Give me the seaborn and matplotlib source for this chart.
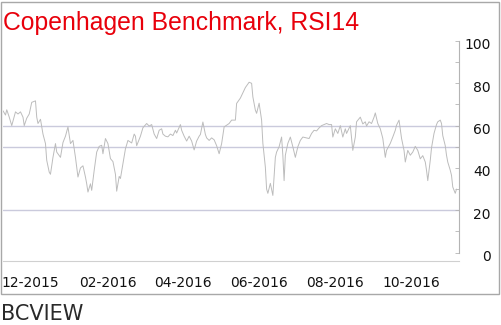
import matplotlib
matplotlib.use('Agg')
import matplotlib.pyplot as plt
import matplotlib.dates as mdates
from matplotlib import font_manager
from matplotlib.patches import Rectangle
from matplotlib.transforms import ScaledTranslation
import seaborn as sns
import pandas as pd

# ---------------- data ----------------
dates = [
    "2015-11-09", "2015-11-11", "2015-11-12", "2015-11-14", "2015-11-16", "2015-11-19",
    "2015-11-21", "2015-11-23", "2015-11-25", "2015-11-26", "2015-11-28", "2015-11-30",
    "2015-12-02", "2015-12-05", "2015-12-06", "2015-12-07", "2015-12-09", "2015-12-11",
    "2015-12-13", "2015-12-14", "2015-12-16", "2015-12-17", "2015-12-19", "2015-12-21",
    "2015-12-22", "2015-12-25", "2015-12-27", "2015-12-29", "2015-12-31", "2016-01-02",
    "2016-01-04", "2016-01-06", "2016-01-08", "2016-01-10", "2016-01-12", "2016-01-14",
    "2016-01-15", "2016-01-16", "2016-01-18", "2016-01-19", "2016-01-21", "2016-01-23",
    "2016-01-25", "2016-01-27", "2016-01-28", "2016-01-30", "2016-02-01", "2016-02-03",
    "2016-02-05", "2016-02-07", "2016-02-08", "2016-02-10", "2016-02-11", "2016-02-13",
    "2016-02-15", "2016-02-17", "2016-02-20", "2016-02-22", "2016-02-23", "2016-02-24",
    "2016-02-27", "2016-02-29", "2016-03-03", "2016-03-05", "2016-03-07", "2016-03-09",
    "2016-03-11", "2016-03-13", "2016-03-15", "2016-03-16", "2016-03-18", "2016-03-20",
    "2016-03-22", "2016-03-24", "2016-03-26", "2016-03-27", "2016-03-30", "2016-03-31",
    "2016-04-02", "2016-04-04", "2016-04-06", "2016-04-08", "2016-04-10", "2016-04-12",
    "2016-04-14", "2016-04-15", "2016-04-17", "2016-04-19", "2016-04-20", "2016-04-22",
    "2016-04-24", "2016-04-26", "2016-04-28", "2016-04-30", "2016-05-02", "2016-05-04",
    "2016-05-06", "2016-05-08", "2016-05-10", "2016-05-13", "2016-05-14", "2016-05-17",
    "2016-05-21", "2016-05-24", "2016-05-26", "2016-05-27", "2016-05-29", "2016-05-30",
    "2016-06-01", "2016-06-03", "2016-06-04", "2016-06-06", "2016-06-07", "2016-06-08",
    "2016-06-10", "2016-06-12", "2016-06-14", "2016-06-15", "2016-06-17", "2016-06-19",
    "2016-06-20", "2016-06-21", "2016-06-22", "2016-06-24", "2016-06-26", "2016-06-28",
    "2016-06-30", "2016-07-02", "2016-07-04", "2016-07-06", "2016-07-08", "2016-07-11",
    "2016-07-13", "2016-07-15", "2016-07-17", "2016-07-19", "2016-07-21", "2016-07-23",
    "2016-07-25", "2016-07-27", "2016-07-29", "2016-07-30", "2016-08-01", "2016-08-03",
    "2016-08-05", "2016-08-07", "2016-08-09", "2016-08-10", "2016-08-13", "2016-08-15",
    "2016-08-17", "2016-08-18", "2016-08-21", "2016-08-23", "2016-08-25", "2016-08-26",
    "2016-08-28", "2016-08-30", "2016-09-01", "2016-09-02", "2016-09-04", "2016-09-06",
    "2016-09-08", "2016-09-10", "2016-09-11", "2016-09-14", "2016-09-16", "2016-09-18",
    "2016-09-19", "2016-09-21", "2016-09-23", "2016-09-25", "2016-09-26", "2016-09-28",
    "2016-09-30", "2016-10-02", "2016-10-04", "2016-10-06", "2016-10-08", "2016-10-10",
    "2016-10-12", "2016-10-13", "2016-10-14", "2016-10-16", "2016-10-17", "2016-10-19",
    "2016-10-21", "2016-10-22", "2016-10-24", "2016-10-25", "2016-10-26", "2016-10-28",
    "2016-10-29", "2016-10-30", "2016-11-01", "2016-11-02", "2016-11-03", "2016-11-05",
    "2016-11-06",
]
rsi14 = [
    67, 65, 67.5, 64, 60, 66.5,
    65.5, 66.5, 64, 60, 63.5, 65.5,
    71, 71.7, 64, 61, 63, 56,
    51.5, 43.6, 38, 37, 45, 51.5,
    47.5, 45, 52, 55, 59.4, 51.5,
    53, 45, 35.7, 40, 41, 35.7,
    32.5, 28.6, 32.5, 29.4, 38.9, 47.5,
    50.2, 50.7, 46.7, 53.9, 51.5, 44.4,
    43, 37, 29, 36, 35, 42,
    49, 53, 51.8, 56, 55, 50.5,
    55, 59, 61, 59.8, 60.5, 56,
    53.9, 57.8, 58.5, 56, 55, 54.7,
    56, 55.3, 57.8, 56.5, 60.5, 57.8,
    55, 52.7, 55, 52.7, 48.5, 52.7,
    55, 55.8, 61.7, 55.8, 54.2, 53,
    54.2, 53.3, 50.5, 46.7, 51.5, 59.4,
    60.2, 61, 62.6, 62.6, 70.5, 73,
    78, 80.5, 80, 73.6, 67.3, 65.8,
    70.6, 62.6, 51.7, 40.4, 30, 28,
    32.7, 27, 45, 47.5, 50, 54.6,
    46, 34, 46, 51.6, 54.6, 50,
    45, 50, 53, 54.6, 54.3, 53.9,
    56.3, 57.8, 57.5, 58.9, 60, 60.5,
    61, 60.5, 60.5, 54.6, 58.5, 56.3,
    60, 54.6, 58.5, 56.3, 60, 48.3,
    54.6, 61.8, 64, 60.8, 61.8, 59.8,
    61.8, 61, 64, 66, 61, 58.5,
    54, 45, 48.3, 51.6, 54.6, 57.8,
    60.2, 62.6, 54, 48.3, 42.8, 48.3,
    46, 47.5, 50.2, 48.3, 44.3, 45.8,
    42.8, 38.9, 34, 43.6, 49.5, 56.3,
    60.5, 61.8, 62.6, 61, 55.3, 50.5,
    46, 42.8, 38.9, 36.5, 31, 28,
    30,
]
ref_levels = [20, 50, 60]
y_ticks = [0, 20, 40, 60, 80, 100]
label_months = [12, 2, 4, 6, 8, 10]
x_start, x_end = "2015-11-09", "2016-11-08"
title = "Copenhagen Benchmark, RSI14"
footer = "BCVIEW"

# ---------------- styling ----------------
sns.set_theme(style="white")
plt.rcParams['font.family'] = ['DejaVu Sans']

names = {f.name for f in font_manager.fontManager.ttflist}
if 'Liberation Sans Narrow' in names:
    title_family, title_size = 'Liberation Sans Narrow', 22
else:
    title_family, title_size = 'Liberation Sans', 17.8

W, H = 502, 325
fig = plt.figure(figsize=(W / 100, H / 100), dpi=100)
fig.patch.set_facecolor('white')

# outer frame
fig.patches.append(Rectangle((1.5 / W, 1 - 294 / H), (499 - 1.5) / W, (294 - 1.5) / H,
                             transform=fig.transFigure, fill=False,
                             edgecolor='#a8a8a8', linewidth=1))

ax = fig.add_axes([3 / W, 1 - 261 / H, (459 - 3) / W, (261 - 41) / H])
ax.set_facecolor('white')

df = pd.DataFrame({'date': pd.to_datetime(dates), 'rsi': rsi14})
sns.lineplot(data=df, x='date', y='rsi', ax=ax, color='#bcbcbc', linewidth=0.7)

for lv in ref_levels:
    ax.axhline(lv, color='#cacadc', linewidth=1.0, zorder=0)

ax.set_ylim(-4, 100)
ax.set_xlim(pd.Timestamp(x_start), pd.Timestamp(x_end))
ax.set_xlabel('')
ax.set_ylabel('')

for s in ['top', 'left']:
    ax.spines[s].set_visible(False)
ax.spines['right'].set_color('#b4b4b4')
ax.spines['right'].set_linewidth(0.8)
ax.spines['right'].set_bounds(0, 100)
ax.spines['bottom'].set_color('#d0d0d0')
ax.spines['bottom'].set_linewidth(0.8)

# y axis on the right
ax.yaxis.tick_right()
ax.set_yticks(y_ticks)
ax.set_yticks([10, 30, 50, 70, 90], minor=True)
ax.tick_params(axis='y', which='both', direction='in', length=3, width=0.6,
               color='#b4b4b4', labelsize=10, labelcolor='#111111', pad=23)
for lbl in ax.get_yticklabels():
    lbl.set_horizontalalignment('right')
    lbl.set_transform(lbl.get_transform() + ScaledTranslation(0, -3 / 100, fig.dpi_scale_trans))

# x axis
ax.xaxis.set_major_locator(mdates.MonthLocator(bymonth=label_months))
ax.xaxis.set_major_formatter(mdates.DateFormatter('%m-%Y'))
ax.xaxis.set_minor_locator(mdates.WeekdayLocator(byweekday=(mdates.MO, mdates.TH)))
ax.tick_params(axis='x', which='major', direction='out', length=4, width=0.6,
               color='#b8b8b8', labelsize=10, labelcolor='#111111', pad=7)
ax.tick_params(axis='x', which='minor', direction='out', length=3, width=0.5,
               color='#c8c8c8')

fig.text(3 / W, 1 - 30 / H, title, color='#e8000b', fontsize=title_size,
         family=title_family, va='baseline', ha='left')
fig.text(1 / W, 1 - 320 / H, footer, color='#2a2a2a', fontsize=15,
         va='baseline', ha='left')

fig.savefig('out.png', dpi=100, facecolor='white')
